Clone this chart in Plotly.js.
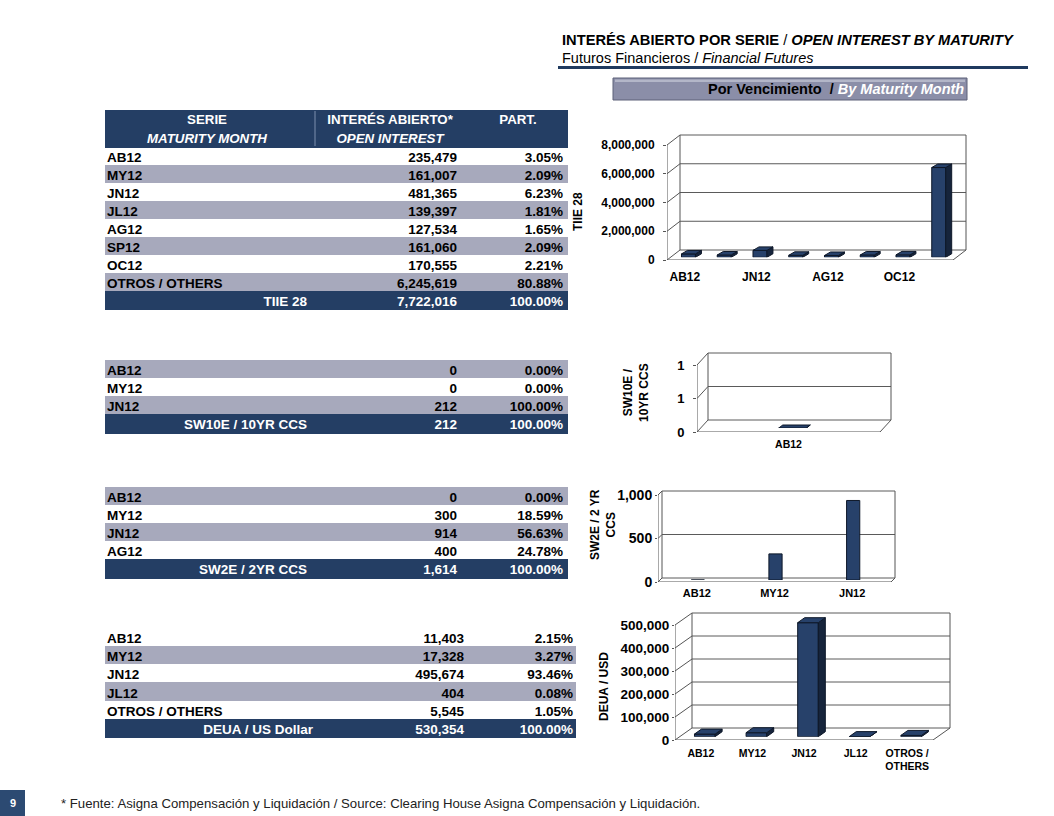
<!DOCTYPE html>
<html><head><meta charset="utf-8">
<script src="https://cdn.plot.ly/plotly-3.0.1.min.js"></script>
<style>html,body{margin:0;padding:0;background:#fff;}#chart{width:1054px;height:816px;}</style>
</head><body><div id="chart"></div>
<script>
// ---------------- DATA ----------------
const tableHeader = ['SERIE', 'INTERÉS ABIERTO*', 'PART.'];
const tableHeader2 = ['MATURITY MONTH', 'OPEN INTEREST', ''];

const tiieSeries = ['AB12','MY12','JN12','JL12','AG12','SP12','OC12','OTROS / OTHERS'];
const tiieOI = [235479,161007,481365,139397,127534,161060,170555,6245619];
const tiiePart = [3.05,2.09,6.23,1.81,1.65,2.09,2.21,80.88];
const tiieTotalLabel = 'TIIE 28';
const tiieTotal = 7722016;

const sw10Series = ['AB12','MY12','JN12'];
const sw10OI = [0,0,212];
const sw10Part = [0.00,0.00,100.00];
const sw10TotalLabel = 'SW10E / 10YR CCS';
const sw10Total = 212;

const sw2Series = ['AB12','MY12','JN12','AG12'];
const sw2OI = [0,300,914,400];
const sw2Part = [0.00,18.59,56.63,24.78];
const sw2TotalLabel = 'SW2E / 2YR CCS';
const sw2Total = 1614;

const deuaSeries = ['AB12','MY12','JN12','JL12','OTROS / OTHERS'];
const deuaOI = [11403,17328,495674,404,5545];
const deuaPart = [2.15,3.27,93.46,0.08,1.05];
const deuaTotalLabel = 'DEUA / US Dollar';
const deuaTotal = 530354;

const totalPart = 100.00;

const chart1Cats = ['AB12','MY12','JN12','JL12','AG12','SP12','OC12','OTROS / OTHERS'];
const chart1Vals = [235479,161007,481365,139397,127534,161060,170555,6245619];
const chart2Cats = ['AB12'];
const chart2Vals = [0];
const chart3Cats = ['AB12','MY12','JN12'];
const chart3Vals = [0,300,914];
const chart4Cats = ['AB12','MY12','JN12','JL12','OTROS /<br>OTHERS'];
const chart4Vals = [11403,17328,495674,404,5545];

// ---------------- STYLE ----------------
const W = 1054, H = 816;
const FONT = '"Liberation Sans", Arial, sans-serif';
const NAVY = '#243e64', GRAY = '#a7a9bc', WHITE = '#ffffff', CLEAR = 'rgba(0,0,0,0)';
const BAR = '#27416a', SIDE = '#16243b', EDGE = '#0e1829';
const AX = '#555555', GRID = '#5a5a5a';
const px = x => x / W, py = y => 1 - y / H;
const fmtInt = v => String(Math.round(v)).replace(/\B(?=(\d{3})+(?!\d))/g, ',');
const fmtPct = v => v.toFixed(2) + '%';

const layout = {
  width: W, height: H, margin: {l:0, r:0, t:0, b:0},
  paper_bgcolor: '#fff', plot_bgcolor: CLEAR,
  showlegend: false, font: {family: FONT, color: '#000'},
  shapes: [], annotations: []
};
const data = [];

// ---------------- TABLES ----------------
// each table = a fill layer (row backgrounds) + a text layer (labels), built from the same arrays
const TEXT_LIFT = 3.5;
function table(cfg) {
  const n = cfg.series.length;
  const fills = [], fcol = [], al1 = [];
  for (let r = 0; r < n; r++) {
    const g = ((r % 2) === 0) === cfg.startGray;
    fills.push(g ? GRAY : WHITE); fcol.push('#000'); al1.push('left');
  }
  fills.push(NAVY); fcol.push('#fff'); al1.push('right');
  const al2 = al1.map(() => 'right');
  const clearCol = fills.map(() => CLEAR);
  const values = [
    cfg.series.concat([cfg.totalLabel]),
    cfg.oi.concat([cfg.total]).map(fmtInt),
    cfg.part.concat([totalPart]).map(fmtPct)
  ];
  const blanks = values.map(col => col.map(() => ''));
  const hasHdr = !!cfg.header;
  const hdrRows = hasHdr ? 2 : 1;
  const hdrTotal = cfg.headerH * hdrRows;
  const hdrValues = hasHdr ? cfg.header.map((h, i) => [h, cfg.header2[i]]) : [];
  const hdrBlanks = hdrValues.map(col => col.map(() => ''));
  const top = cfg.rowsTop - hdrTotal;

  // fill layer
  data.push({
    type: 'table',
    domain: {x: [px(cfg.fx0), px(cfg.fx1)], y: [py(cfg.bottom), py(top)]},
    columnwidth: cfg.fColW,
    header: {values: hdrBlanks, height: cfg.headerH,
      fill: {color: hasHdr ? NAVY : CLEAR}, line: {color: hasHdr ? NAVY : CLEAR, width: 1},
      font: {family: FONT, size: 13, color: CLEAR}},
    cells: {values: blanks, height: cfg.rowH,
      fill: {color: [fills, fills, fills]}, line: {color: [fills, fills, fills], width: 1},
      font: {family: FONT, size: 13, color: CLEAR}}
  });
  // text layer
  data.push({
    type: 'table',
    domain: {x: [px(cfg.tx0), px(cfg.tx1)], y: [py(cfg.bottom - TEXT_LIFT), py(top - TEXT_LIFT)]},
    columnwidth: cfg.tColW,
    header: {values: hdrValues, height: cfg.headerH, align: 'center',
      fill: {color: CLEAR}, line: {color: CLEAR, width: 1},
      font: {family: FONT, size: 13.3, color: '#fff', weight: 'bold',
        style: [['normal','italic'], ['normal','italic'], ['normal','normal']]}},
    cells: {values: values, height: cfg.rowH, align: [al1, al2, al2],
      fill: {color: [clearCol, clearCol, clearCol]}, line: {color: [clearCol, clearCol, clearCol], width: 1},
      font: {family: FONT, size: 13.5, color: [fcol, fcol, fcol], weight: 'bold'}}
  });
}

const T_F = {fx0: 105, fx1: 567, fColW: [210, 147, 105], tx0: 99, tx1: 571, tColW: [216, 150, 106]};
table(Object.assign({}, T_F, {rowsTop: 147, bottom: 330, headerH: 18.5, rowH: 18, startGray: false,
  header: tableHeader, header2: tableHeader2,
  series: tiieSeries, oi: tiieOI, part: tiiePart, totalLabel: tiieTotalLabel, total: tiieTotal}));
table(Object.assign({}, T_F, {rowsTop: 362, bottom: 450, headerH: 18, rowH: 18.25, startGray: true,
  series: sw10Series, oi: sw10OI, part: sw10Part, totalLabel: sw10TotalLabel, total: sw10Total}));
table(Object.assign({}, T_F, {rowsTop: 489, bottom: 600, headerH: 18, rowH: 18.2, startGray: true,
  series: sw2Series, oi: sw2OI, part: sw2Part, totalLabel: sw2TotalLabel, total: sw2Total}));
table({fx0: 105, fx1: 575, fColW: [213, 151, 106], tx0: 99, tx1: 581, tColW: [222, 151, 109],
  rowsTop: 630, bottom: 760, headerH: 18, rowH: 18.3, startGray: false,
  series: deuaSeries, oi: deuaOI, part: deuaPart, totalLabel: deuaTotalLabel, total: deuaTotal});

// header separator in table 1
layout.shapes.push({type: 'line', xref: 'paper', yref: 'paper', x0: px(315), x1: px(315), y0: py(111), y1: py(146),
  line: {color: '#7d8fae', width: 1}});

// ---------------- CHARTS ----------------
function addChart(k, cfg) {
  const iF = 2*k-1, iM = 2*k;
  const nm = i => i === 1 ? '' : String(i);
  const xa = i => 'xaxis' + nm(i), ya = i => 'yaxis' + nm(i);
  const xr = i => 'x' + nm(i), yr = i => 'y' + nm(i);
  const n = cfg.cats.length;
  const wallW = cfg.R - cfg.L, wallH = cfg.B - cfg.T;
  // an axis pair whose plot area is enlarged by (ex, ey) px to the right/top, keeping the same scale
  const pair = (dx, dy, ex, ey) => ({
    x: [px(cfg.L + dx), px(cfg.R + dx + ex)], y: [py(cfg.B - dy), py(cfg.T - dy - ey)],
    xr: [-0.5, n - 0.5 + n * ex / wallW], yr: [0, cfg.max * (wallH + ey) / wallH]
  });
  const F = pair(0, 0, cfg.wdx + 2, cfg.wdy + 2), M = pair(cfg.boff[0], cfg.boff[1], 12, 12);
  const labelIdx = cfg.cats.map((c, i) => i).filter(i => i % cfg.labelStep === 0);

  // front axes (tick labels)
  layout[xa(iF)] = {domain: F.x, anchor: yr(iF), range: F.xr, showline: false,
    tickmode: 'array', tickvals: labelIdx, ticktext: labelIdx.map(i => cfg.cats[i]), ticks: '',
    tickfont: {family: FONT, size: cfg.xfs, color: '#000', weight: 'bold'}, ticklabelstandoff: cfg.xstand,
    showgrid: false, zeroline: false, fixedrange: true};
  layout[ya(iF)] = {domain: F.y, anchor: xr(iF), range: F.yr, tick0: 0, dtick: cfg.dtick, tickformat: cfg.fmt,
    showline: false, ticks: 'outside', ticklen: cfg.ticklen, tickcolor: AX,
    tickfont: {family: FONT, size: cfg.yfs, color: '#000', weight: 'bold'}, ticklabelstandoff: cfg.ystand,
    showgrid: false, zeroline: false, fixedrange: true};
  // bars (mid depth)
  layout[xa(iM)] = {domain: M.x, anchor: yr(iM), type: 'category', range: M.xr, visible: false, fixedrange: true};
  layout[ya(iM)] = {domain: M.y, anchor: xr(iM), range: M.yr, visible: false, fixedrange: true};
  data.push({type: 'bar', x: cfg.cats, y: cfg.vals, xaxis: xr(iM), yaxis: yr(iM), width: cfg.barW,
    marker: {color: BAR, line: {color: EDGE, width: 1}}, hoverinfo: 'skip'});

  // walls, in the front axes' scale shifted back by the depth
  const base = {type: 'line', xref: xr(iF), yref: yr(iF), xsizemode: 'pixel', ysizemode: 'pixel',
    line: {color: AX, width: 1}, layer: 'below'};
  const add = o => layout.shapes.push(Object.assign({}, base, o));
  for (let t = 0; t <= cfg.max + 1e-9; t += cfg.dtick) {
    add({xanchor: -0.5, yanchor: t, x0: 0, y0: 0, x1: cfg.wdx, y1: cfg.wdy});                       // side wall
    add({xanchor: -0.5, yanchor: t, x0: cfg.wdx, y0: cfg.wdy, x1: cfg.wdx + wallW, y1: cfg.wdy,
         line: {color: GRID, width: 1}});                                                          // back wall grid
  }
  [-0.5, n - 0.5].forEach(a => add({xanchor: a, yanchor: 0, x0: cfg.wdx, y0: cfg.wdy, x1: cfg.wdx, y1: cfg.wdy + wallH}));
  add({xanchor: -0.5, yanchor: 0, x0: 0, y0: 0, x1: 0, y1: wallH});            // front vertical edge (y axis)
  add({xanchor: -0.5, yanchor: 0, x0: 0, y0: 0, x1: wallW, y1: 0});            // floor front edge (x axis)
  add({xanchor: n - 0.5, yanchor: 0, x0: 0, y0: 0, x1: cfg.wdx, y1: cfg.wdy}); // floor right edge
  for (let j = 0; j <= n; j++) add({xanchor: j - 0.5, yanchor: 0, x0: 0, y0: 0, x1: -1, y1: -4});

  // 3D faces of bars
  if (cfg.bd[0] > 0) {
    const slot = wallW / n, wpx = cfg.barW * slot;
    const [bx, by] = cfg.bd;
    cfg.vals.forEach((v, i) => {
      const hpx = v / cfg.max * wallH;
      const fb = {type: 'path', xref: xr(iM), yref: yr(iM), xsizemode: 'pixel', ysizemode: 'pixel',
        line: {color: EDGE, width: 1}, layer: 'above'};
      layout.shapes.push(Object.assign({}, fb, {xanchor: i + cfg.barW / 2, yanchor: 0, fillcolor: SIDE,
        path: `M0,0 L0,${hpx} L${bx},${hpx + by} L${bx},${by} Z`}));
      layout.shapes.push(Object.assign({}, fb, {xanchor: i - cfg.barW / 2, yanchor: v, fillcolor: BAR,
        path: `M0,0 L${bx},${by} L${wpx + bx},${by} L${wpx},0 Z`}));
    });
  }
  // y title
  layout.annotations.push({xref: 'paper', yref: 'paper', x: px(cfg.titleX), y: py(cfg.titleY),
    xanchor: 'center', yanchor: 'middle', textangle: -90, showarrow: false, text: cfg.title,
    font: {family: FONT, size: 12, color: '#000', weight: 'bold'}});
}

addChart(1, {cats: chart1Cats, vals: chart1Vals, L: 667, R: 953, B: 260, T: 145, wdx: 13, wdy: 10,
  boff: [3.6, 2.7], bd: [6, 3.5], max: 8000000, dtick: 2000000, fmt: ',d', barW: 0.39, labelStep: 2,
  xfs: 12, yfs: 12, xstand: 8, ystand: 6, ticklen: 3, title: 'TIIE 28', titleX: 578, titleY: 212});
addChart(2, {cats: chart2Cats, vals: chart2Vals, L: 697, R: 880, B: 432, T: 365, wdx: 11, wdy: 12,
  boff: [4, 4], bd: [4, 3], max: 1, dtick: 0.5, fmt: ',.0f', barW: 0.15, labelStep: 1,
  xfs: 10.5, yfs: 13, xstand: 4, ystand: 6, ticklen: 3, title: 'SW10E /<br>10YR CCS', titleX: 636, titleY: 393});
addChart(3, {cats: chart3Cats, vals: chart3Vals, L: 658, R: 891, B: 582, T: 495, wdx: 4, wdy: 4,
  boff: [1, 2], bd: [0, 0], max: 1000, dtick: 500, fmt: ',d', barW: 0.17, labelStep: 1,
  xfs: 11, yfs: 14, xstand: 3, ystand: 0, ticklen: 2, title: 'SW2E / 2 YR<br>CCS', titleX: 603, titleY: 525});
addChart(4, {cats: chart4Cats, vals: chart4Vals, L: 675, R: 933, B: 740, T: 625, wdx: 17, wdy: 12,
  boff: [4, 3.3], bd: [7, 5], max: 500000, dtick: 100000, fmt: ',d', barW: 0.4, labelStep: 1,
  xfs: 10.5, yfs: 13.5, xstand: 5, ystand: 0, ticklen: 2, title: 'DEUA / USD', titleX: 604, titleY: 687});

// ---------------- PAGE DECORATION ----------------
layout.shapes.push({type: 'line', xref: 'paper', yref: 'paper', x0: px(558), x1: px(1028), y0: py(67.5), y1: py(67.5),
  line: {color: '#1f3a5f', width: 3}});
layout.shapes.push({type: 'rect', xref: 'paper', yref: 'paper', x0: px(613), x1: px(967), y0: py(100), y1: py(78),
  fillcolor: '#8b8ea8', line: {color: '#5d6079', width: 1}, layer: 'below'});
layout.shapes.push({type: 'rect', xref: 'paper', yref: 'paper', x0: px(615), x1: px(965), y0: py(82), y1: py(79.5),
  fillcolor: '#b3b6c8', line: {width: 0}, layer: 'below'});
layout.shapes.push({type: 'rect', xref: 'paper', yref: 'paper', x0: 0, x1: px(25), y0: 0, y1: py(790),
  fillcolor: '#2c4a72', line: {width: 0}});

layout.annotations.push(
  {xref: 'paper', yref: 'paper', x: px(560), y: py(40), xanchor: 'left', yanchor: 'middle', showarrow: false,
   text: '<b>INTERÉS ABIERTO POR SERIE</b> / <b><i>OPEN INTEREST BY MATURITY</i></b>',
   font: {family: FONT, size: 14.7, color: '#000'}},
  {xref: 'paper', yref: 'paper', x: px(560), y: py(58), xanchor: 'left', yanchor: 'middle', showarrow: false,
   text: 'Futuros Financieros / <i>Financial Futures</i>', font: {family: FONT, size: 14.5, color: '#000'}},
  {xref: 'paper', yref: 'paper', x: px(966), y: py(89), xanchor: 'right', yanchor: 'middle', showarrow: false,
   text: '<b>Por Vencimiento  /</b> <b><i><span style="color:#ffffff">By Maturity Month</span></i></b>',
   font: {family: FONT, size: 14.5, color: '#000'}},
  {xref: 'paper', yref: 'paper', x: px(59), y: py(803), xanchor: 'left', yanchor: 'middle', showarrow: false,
   text: '* Fuente: Asigna Compensación y Liquidación / Source: Clearing House Asigna Compensación y Liquidación.',
   font: {family: FONT, size: 13.2, color: '#222'}},
  {xref: 'paper', yref: 'paper', x: px(13), y: py(803), xanchor: 'center', yanchor: 'middle', showarrow: false,
   text: '<b>9</b>', font: {family: FONT, size: 11, color: '#fff'}}
);

Plotly.newPlot('chart', data, layout, {staticPlot: true, displayModeBar: false});
</script>
</body></html>
